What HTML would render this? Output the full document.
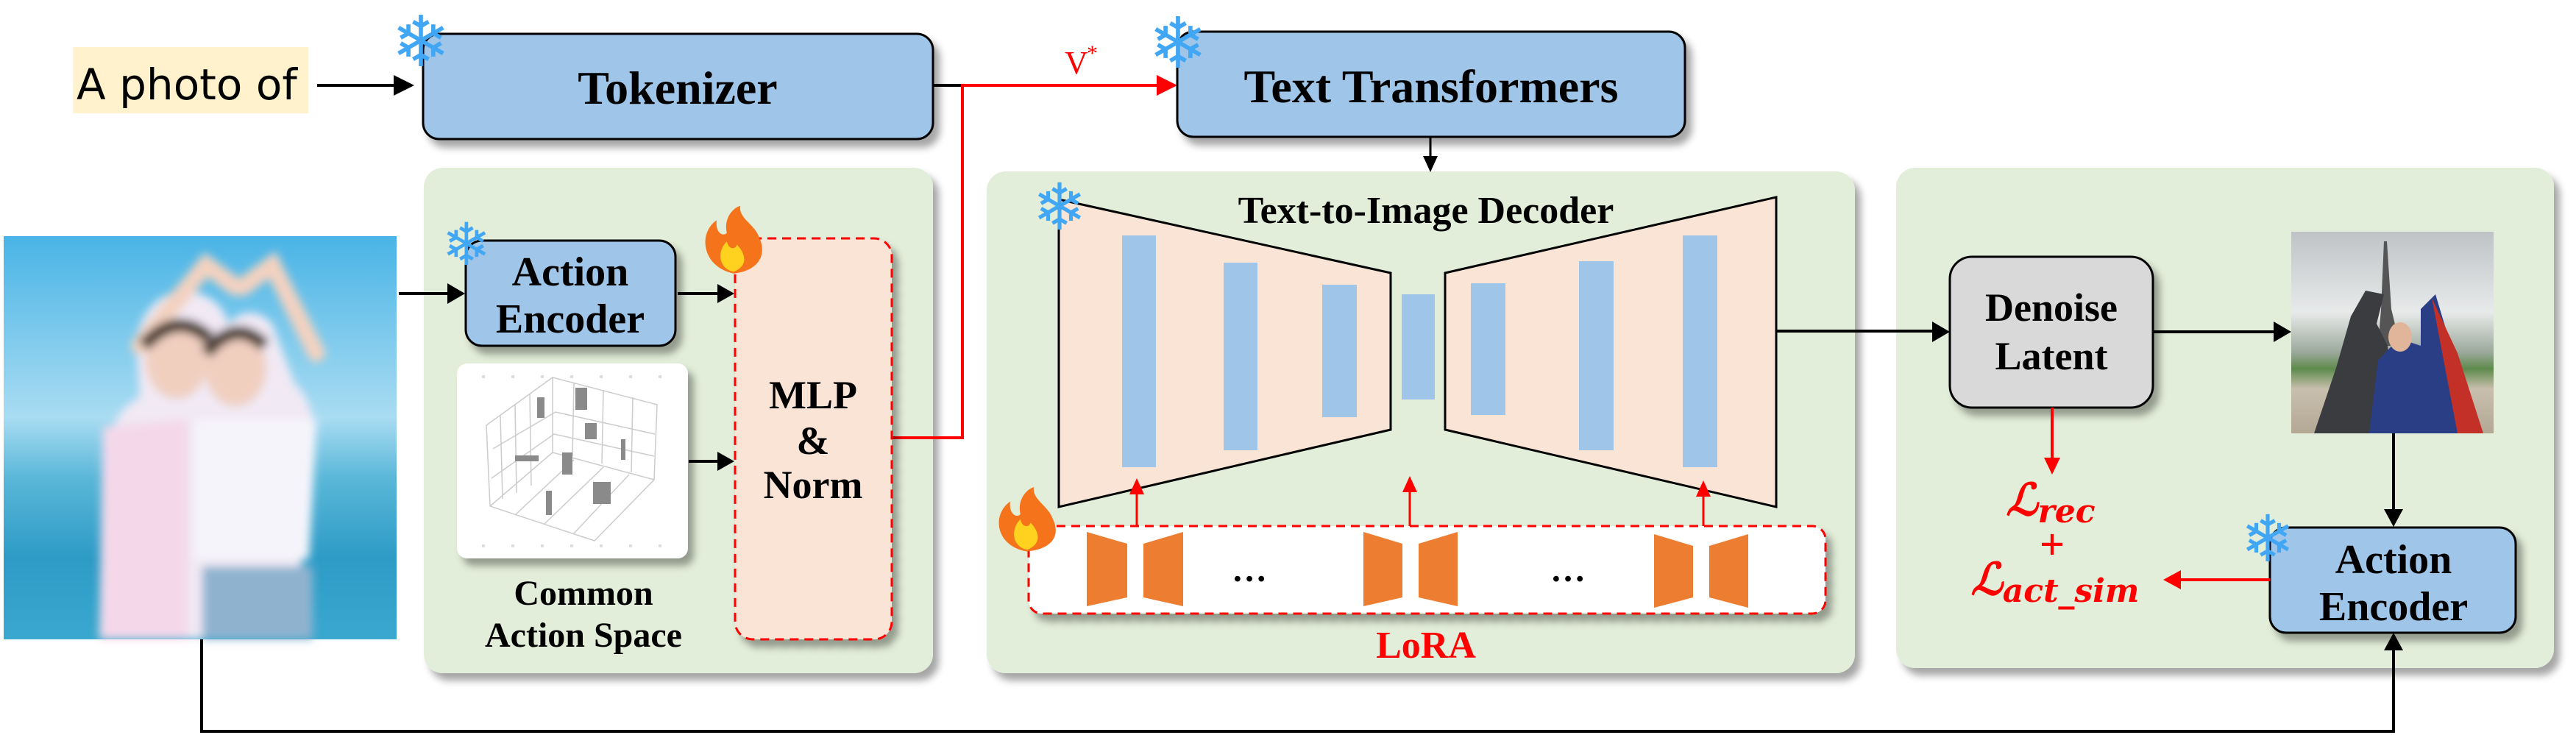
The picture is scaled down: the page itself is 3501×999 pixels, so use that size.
<!DOCTYPE html>
<html><head><meta charset="utf-8"><style>
html,body{margin:0;padding:0;background:#fff;}
svg{display:block;}
.t{font-family:"Liberation Serif",serif;font-weight:bold;fill:#000;}
.sf{font-family:"DejaVu Sans",sans-serif;fill:#41a7f5;}
</style></head><body>
<svg width="3501" height="999" viewBox="0 0 3501 999" xmlns="http://www.w3.org/2000/svg">
<defs>
<filter id="sh" x="-10%" y="-10%" width="130%" height="140%"><feDropShadow dx="8" dy="10" stdDeviation="5" flood-color="#000" flood-opacity="0.35"/></filter>
<filter id="bl"><feGaussianBlur stdDeviation="6"/></filter>
<linearGradient id="sky" x1="0" y1="0" x2="0" y2="1">
<stop offset="0" stop-color="#49b4e6"/><stop offset="0.45" stop-color="#a9dcf2"/><stop offset="0.6" stop-color="#5ab7d8"/><stop offset="0.8" stop-color="#2d9bc6"/><stop offset="1" stop-color="#3aa8cf"/></linearGradient>
<linearGradient id="sky2" x1="0" y1="0" x2="0" y2="1">
<stop offset="0" stop-color="#bfc3c6"/><stop offset="0.4" stop-color="#e8eaea"/><stop offset="0.6" stop-color="#9aa89a"/><stop offset="0.68" stop-color="#5e8a4c"/><stop offset="0.78" stop-color="#c9bfae"/><stop offset="1" stop-color="#b3a894"/></linearGradient>
</defs>

<!-- panels -->
<rect x="576" y="228" width="692" height="687" rx="26" fill="#e2eed9" filter="url(#sh)"/>
<rect x="1341" y="233" width="1180" height="682" rx="26" fill="#e2eed9" filter="url(#sh)"/>
<rect x="2577" y="228" width="894" height="680" rx="26" fill="#e2eed9" filter="url(#sh)"/>

<!-- A photo of -->
<rect x="99" y="64" width="320" height="90" fill="#fff2cc"/>
<text x="104" y="135" font-family="'DejaVu Sans','Liberation Sans',sans-serif" font-size="58" fill="#000">A photo of</text>
<line x1="431" y1="116" x2="540" y2="116" stroke="#000" stroke-width="4"/>
<path d="M535,102 L563,116 L535,130z" fill="#000"/>

<!-- Tokenizer -->
<rect x="575" y="46" width="693" height="143" rx="22" fill="#9fc5e8" stroke="#000" stroke-width="3" filter="url(#sh)"/>
<text class="t" x="921" y="141" font-size="64" text-anchor="middle">Tokenizer</text>
<text class="sf" x="572" y="90" font-size="96" text-anchor="middle">❄</text>

<!-- tokenizer out + red line -->
<line x1="1268" y1="116" x2="1308" y2="116" stroke="#000" stroke-width="4"/>
<polyline points="1212,595 1308,595 1308,116 1575,116" fill="none" stroke="#f00" stroke-width="4"/>
<path d="M1572,102 L1600,116 L1572,130z" fill="#f00"/>
<text x="1447" y="100" font-family="'Liberation Serif',serif" font-size="44" fill="#f00">V</text>
<text x="1477" y="82" font-family="'Liberation Serif',serif" font-size="30" fill="#f00">*</text>

<!-- Text Transformers -->
<rect x="1600" y="43" width="690" height="143" rx="22" fill="#9fc5e8" stroke="#000" stroke-width="3" filter="url(#sh)"/>
<text class="t" x="1945" y="139" font-size="64" text-anchor="middle">Text Transformers</text>
<text class="sf" x="1601" y="92" font-size="96" text-anchor="middle">❄</text>
<line x1="1944" y1="186" x2="1944" y2="216" stroke="#000" stroke-width="3"/>
<path d="M1934,212 L1944,234 L1954,212z" fill="#000"/>

<!-- Photo 1 -->
<rect x="5" y="321" width="534" height="548" fill="url(#sky)"/>
<g filter="url(#bl)">
<path d="M135,869 L145,620 Q150,560 190,540 L185,460 Q200,400 250,395 Q300,400 310,440 Q340,410 370,440 L400,520 Q440,560 420,640 L410,760 L400,869z" fill="#f1e9f4"/>
<path d="M190,470 L280,360 L320,390 M330,390 L370,360 L430,480" stroke="#f3d2c0" stroke-width="24" fill="none" stroke-linecap="round"/>
<ellipse cx="240" cy="490" rx="42" ry="52" fill="#f0cfbf"/>
<ellipse cx="320" cy="500" rx="42" ry="52" fill="#f0cfbf"/>
<path d="M195,470 Q240,420 285,460 M280,480 Q320,430 360,470" stroke="#4a3a32" stroke-width="18" fill="none"/>
<path d="M140,580 L255,570 L255,869 L135,869z" fill="#f4d8ea"/>
<path d="M265,570 L430,570 L420,760 L265,760z" fill="#f6f4fb"/>
<rect x="275" y="770" width="150" height="99" fill="#8fb3cf"/>
</g>

<!-- Photo -> action encoder -->
<line x1="542" y1="399" x2="612" y2="399" stroke="#000" stroke-width="4"/>
<path d="M608,385 L632,399 L608,413z" fill="#000"/>

<!-- Action Encoder 1 -->
<rect x="633" y="327" width="285" height="143" rx="22" fill="#9fc5e8" stroke="#000" stroke-width="3" filter="url(#sh)"/>
<text class="t" x="775" y="388" font-size="56" text-anchor="middle">Action</text>
<text class="t" x="775" y="452" font-size="56" text-anchor="middle">Encoder</text>
<text class="sf" x="634" y="360" font-size="80" text-anchor="middle">❄</text>
<line x1="921" y1="399" x2="980" y2="399" stroke="#000" stroke-width="4"/>
<path d="M975,386 L998,399 L975,412z" fill="#000"/>

<!-- Common action space -->
<rect x="621" y="494" width="314" height="265" rx="14" fill="#fff" filter="url(#sh)"/>
<g fill="#ddd">
<rect x="655" y="510" width="4" height="4"/><rect x="695" y="510" width="4" height="4"/><rect x="735" y="510" width="4" height="4"/><rect x="775" y="510" width="4" height="4"/><rect x="815" y="510" width="4" height="4"/><rect x="855" y="510" width="4" height="4"/><rect x="895" y="510" width="4" height="4"/>
<rect x="655" y="740" width="4" height="4"/><rect x="695" y="740" width="4" height="4"/><rect x="735" y="740" width="4" height="4"/><rect x="775" y="740" width="4" height="4"/><rect x="815" y="740" width="4" height="4"/><rect x="855" y="740" width="4" height="4"/><rect x="895" y="740" width="4" height="4"/>
</g>
<g stroke="#ccc" stroke-width="1.5" fill="none">
<path d="M661,578 L751,513 L893,550 L889,652 L808,735 L666,688z"/>
<path d="M751,513 L751,615 L666,688 M751,615 L889,652"/>
<path d="M680,565 L683,678 M700,550 L702,670 M720,536 L722,660 M780,520 L778,620 M820,530 L818,630 M860,540 L858,642"/>
<path d="M670,610 L755,560 L890,590 M668,650 L753,590 L889,620"/>
<path d="M700,700 L780,625 M740,712 L820,635 M780,725 L855,645"/>
</g>
<g fill="#8a8a8a"><rect x="730" y="540" width="10" height="28"/><rect x="782" y="527" width="16" height="30"/><rect x="795" y="575" width="16" height="22"/><rect x="700" y="619" width="32" height="8"/><rect x="764" y="615" width="14" height="30"/><rect x="844" y="597" width="6" height="28"/><rect x="742" y="667" width="8" height="33"/><rect x="806" y="655" width="24" height="30"/></g>
<text class="t" x="793" y="822" font-size="48" text-anchor="middle">Common</text>
<text class="t" x="793" y="879" font-size="48" text-anchor="middle">Action Space</text>
<line x1="936" y1="627" x2="980" y2="627" stroke="#000" stroke-width="4"/>
<path d="M975,614 L998,627 L975,640z" fill="#000"/>

<!-- MLP & Norm -->
<rect x="999" y="324" width="213" height="545" rx="24" fill="#f9e4d6" stroke="#f00" stroke-width="3" stroke-dasharray="12,8" filter="url(#sh)"/>
<text class="t" x="1105" y="555" font-size="54" text-anchor="middle">MLP</text>
<text class="t" x="1105" y="617" font-size="54" text-anchor="middle">&amp;</text>
<text class="t" x="1105" y="677" font-size="54" text-anchor="middle">Norm</text>
<g transform="translate(997,328) scale(1.15)"><path d="M0,38 C-38,30 -42,-10 -20,-25 C-22,-10 -12,-5 -8,-10 C-12,-28 0,-40 8,-42 C5,-28 25,-20 30,-5 C40,15 30,35 0,38z" fill="#f5731a"/><path d="M0,36 C-18,32 -20,12 -8,0 C-6,10 2,10 4,4 C12,12 20,28 0,36z" fill="#ffd21f"/></g>

<!-- Decoder -->
<text class="t" x="1938" y="303" font-size="52" text-anchor="middle">Text-to-Image Decoder</text>
<polygon points="1439,271 1890,371 1890,584 1439,689" fill="#f9e4d6" stroke="#000" stroke-width="3"/>
<polygon points="1964,371 2414,268 2414,689 1964,584" fill="#f9e4d6" stroke="#000" stroke-width="3"/>
<g fill="#9fc5e8">
<rect x="1525" y="320" width="46" height="315"/><rect x="1663" y="357" width="46" height="255"/><rect x="1797" y="387" width="47" height="180"/>
<rect x="1905" y="400" width="45" height="143"/>
<rect x="1999" y="385" width="47" height="179"/><rect x="2146" y="355" width="47" height="257"/><rect x="2287" y="320" width="47" height="315"/></g>
<text class="sf" x="1440" y="312" font-size="88" text-anchor="middle">❄</text>
<line x1="2414" y1="450" x2="2630" y2="450" stroke="#000" stroke-width="4"/>
<path d="M2626,437 L2650,451 L2626,465z" fill="#000"/>

<!-- LoRA -->
<rect x="1398" y="715" width="1083" height="119" rx="18" fill="#fff" stroke="#f00" stroke-width="3" stroke-dasharray="12,8" filter="url(#sh)"/>
<g fill="#ed7d31">
<polygon points="1477,723 1532,739 1532,812 1477,824"/><polygon points="1554,739 1608,723 1608,824 1554,812"/>
<polygon points="1853,723 1906,739 1906,812 1853,824"/><polygon points="1928,739 1981,723 1981,824 1928,812"/>
<polygon points="2248,726 2301,742 2301,812 2248,826"/><polygon points="2323,742 2376,726 2376,826 2323,812"/>
</g>
<text class="t" x="1698" y="790" font-size="48" text-anchor="middle">…</text>
<text class="t" x="2131" y="790" font-size="48" text-anchor="middle">…</text>
<g stroke="#f00" stroke-width="3"><line x1="1545" y1="715" x2="1545" y2="668"/><line x1="1916" y1="715" x2="1916" y2="665"/><line x1="2315" y1="715" x2="2315" y2="671"/></g>
<g fill="#f00"><path d="M1535,672 L1545,650 L1555,672z"/><path d="M1906,669 L1916,647 L1926,669z"/><path d="M2305,675 L2315,653 L2325,675z"/></g>
<text x="1938" y="894" font-family="'Liberation Serif',serif" font-weight="bold" font-size="52" fill="#f00" text-anchor="middle">LoRA</text>
<g transform="translate(1396,715) scale(1.15)"><path d="M0,30 C-38,24 -42,-14 -20,-29 C-22,-14 -12,-9 -8,-14 C-12,-32 0,-44 8,-46 C5,-32 25,-24 30,-9 C40,11 30,27 0,30z" fill="#f5731a"/><path d="M0,28 C-18,24 -20,4 -8,-8 C-6,2 2,2 4,-4 C12,4 20,20 0,28z" fill="#ffd21f"/></g>

<!-- Denoise -->
<rect x="2650" y="349" width="276" height="205" rx="30" fill="#d9d9d9" stroke="#000" stroke-width="3" filter="url(#sh)"/>
<text class="t" x="2788" y="436" font-size="54" text-anchor="middle">Denoise</text>
<text class="t" x="2788" y="502" font-size="54" text-anchor="middle">Latent</text>
<line x1="2926" y1="451" x2="3094" y2="451" stroke="#000" stroke-width="4"/>
<path d="M3090,437 L3114,451 L3090,465z" fill="#000"/>

<!-- Photo 2 -->
<rect x="3114" y="315" width="275" height="274" fill="url(#sky2)"/>
<path d="M3240,328 L3244,328 L3250,420 L3262,470 L3232,470 L3236,420z" fill="#555"/>
<path d="M3145,589 L3175,500 L3195,430 L3215,395 L3240,400 L3230,440 L3245,470 L3255,589z" fill="#3b3c40"/>
<path d="M3220,589 L3232,490 L3260,460 L3290,470 L3290,420 L3310,400 L3340,500 L3370,589z" fill="#2a3e86"/>
<path d="M3305,405 L3340,480 L3375,589 L3340,589z" fill="#c23027"/>
<ellipse cx="3262" cy="458" rx="16" ry="20" fill="#e0b59a"/>

<!-- Action encoder 2 -->
<line x1="3253" y1="589" x2="3253" y2="695" stroke="#000" stroke-width="4"/>
<path d="M3240,692 L3253,716 L3266,692z" fill="#000"/>
<rect x="3085" y="717" width="334" height="143" rx="22" fill="#9fc5e8" stroke="#000" stroke-width="3" filter="url(#sh)"/>
<text class="t" x="3253" y="779" font-size="56" text-anchor="middle">Action</text>
<text class="t" x="3253" y="843" font-size="56" text-anchor="middle">Encoder</text>
<text class="sf" x="3082" y="763" font-size="88" text-anchor="middle">❄</text>
<line x1="3085" y1="788" x2="2960" y2="788" stroke="#f00" stroke-width="4"/>
<path d="M2964,775 L2940,788 L2964,801z" fill="#f00"/>

<!-- loss -->
<line x1="2789" y1="554" x2="2789" y2="625" stroke="#f00" stroke-width="4"/>
<path d="M2778,622 L2789,645 L2800,622z" fill="#f00"/>
<text x="2787" y="700" font-family="'DejaVu Serif','Liberation Serif',serif" font-style="italic" font-weight="bold" fill="#f00" text-anchor="middle"><tspan font-size="60">ℒ</tspan><tspan font-size="44" dy="10">rec</tspan></text>
<text x="2789" y="760" font-family="'Liberation Serif',serif" font-weight="bold" font-size="60" fill="#f00" text-anchor="middle">+</text>
<text x="2793" y="808" font-family="'DejaVu Serif','Liberation Serif',serif" font-style="italic" font-weight="bold" fill="#f00" text-anchor="middle"><tspan font-size="60">ℒ</tspan><tspan font-size="44" dy="10">act_sim</tspan></text>

<!-- bottom line -->
<polyline points="274,869 274,994 3253,994 3253,880" fill="none" stroke="#000" stroke-width="4"/>
<path d="M3240,884 L3253,860 L3266,884z" fill="#000"/>
</svg>
</body></html>
